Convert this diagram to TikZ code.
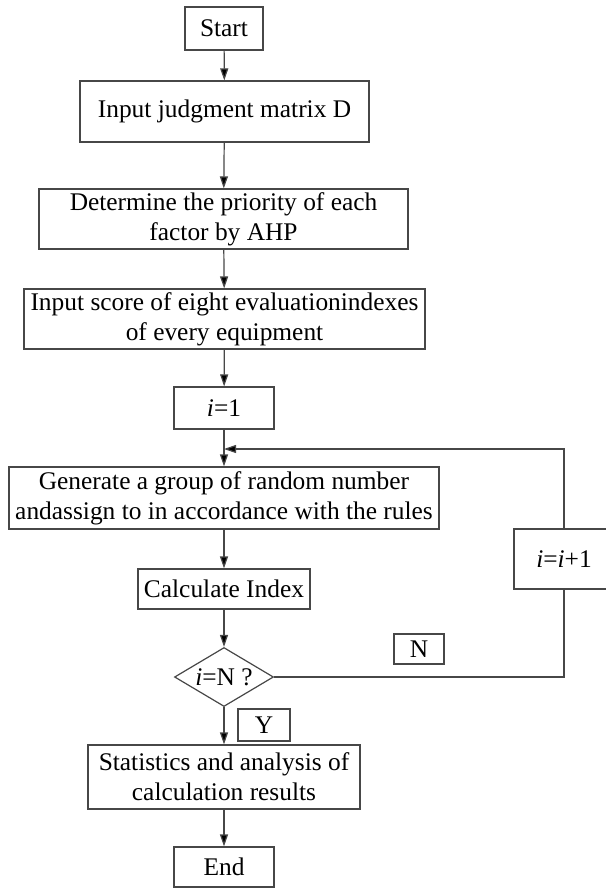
\documentclass[tikz,border=0pt]{standalone}
\usepackage{fontspec}
\setmainfont{Liberation Serif}
\usetikzlibrary{arrows.meta,shapes.geometric}
\begin{document}
\begin{tikzpicture}[x=1pt,y=-1pt,
  box/.style={draw=black!72, line width=1.2pt, inner sep=0pt, align=center, font=\fontsize{25.4}{30}\selectfont},
  dia/.style={box, shape=diamond, aspect=1.68},
  flow/.style={draw=black!72, line width=1.2pt, -{Triangle[length=12pt,width=8pt,fill=black]}},
  line/.style={draw=black!72, line width=1.2pt}]
\useasboundingbox (0,0) rectangle (605,888);
\node[box, minimum width=78pt, minimum height=43pt] (start) at (224,28.5) {Start};
\node[box, minimum width=289pt, minimum height=61pt] (judg) at (224.5,111.5) {Input judgment matrix D};
\node[box, minimum width=369pt, minimum height=60pt] (det) at (223.5,219) {Determine the priority of each\\factor by AHP};
\node[box, minimum width=401pt, minimum height=60pt] (score) at (224.5,319) {Input score of eight evaluationindexes\\of every equipment};
\node[box, minimum width=100pt, minimum height=42pt] (ione) at (224,408) {\textit{i}=1};
\node[box, minimum width=430pt, minimum height=62pt] (gen) at (224,498) {Generate a group of random number\\andassign to in accordance with the rules};
\node[box, minimum width=172pt, minimum height=40pt] (calc) at (224,589) {Calculate Index};
\node[dia, minimum width=99pt, minimum height=59pt] (test) at (224,677) {\textit{i}=N ?};
\node[box, minimum width=52pt, minimum height=32pt] (yes) at (264,725) {Y};
\node[box, minimum width=50pt, minimum height=30pt] (no) at (419,649) {N};
\node[box, minimum width=100pt, minimum height=60pt] (inc) at (564,559) {\textit{i}=\textit{i}+1};
\node[box, minimum width=272pt, minimum height=64pt] (stat) at (224,777) {Statistics and analysis of\\calculation results};
\node[box, minimum width=100pt, minimum height=40pt] (end) at (224,867) {End};
\coordinate (loop) at (224,449);
\draw[flow] (start) -- (judg);
\draw[flow] (judg) -- (det);
\draw[flow] (det) -- (score);
\draw[flow] (score) -- (ione);
\draw[flow] (ione) -- (gen);
\draw[flow] (gen) -- (calc);
\draw[flow] (calc) -- (test);
\draw[flow] (test) -- (stat);
\draw[flow] (stat) -- (end);
\draw[line] (test.east) -| (inc.south);
\draw[flow] (inc.north) |- (loop);
\end{tikzpicture}
\end{document}
